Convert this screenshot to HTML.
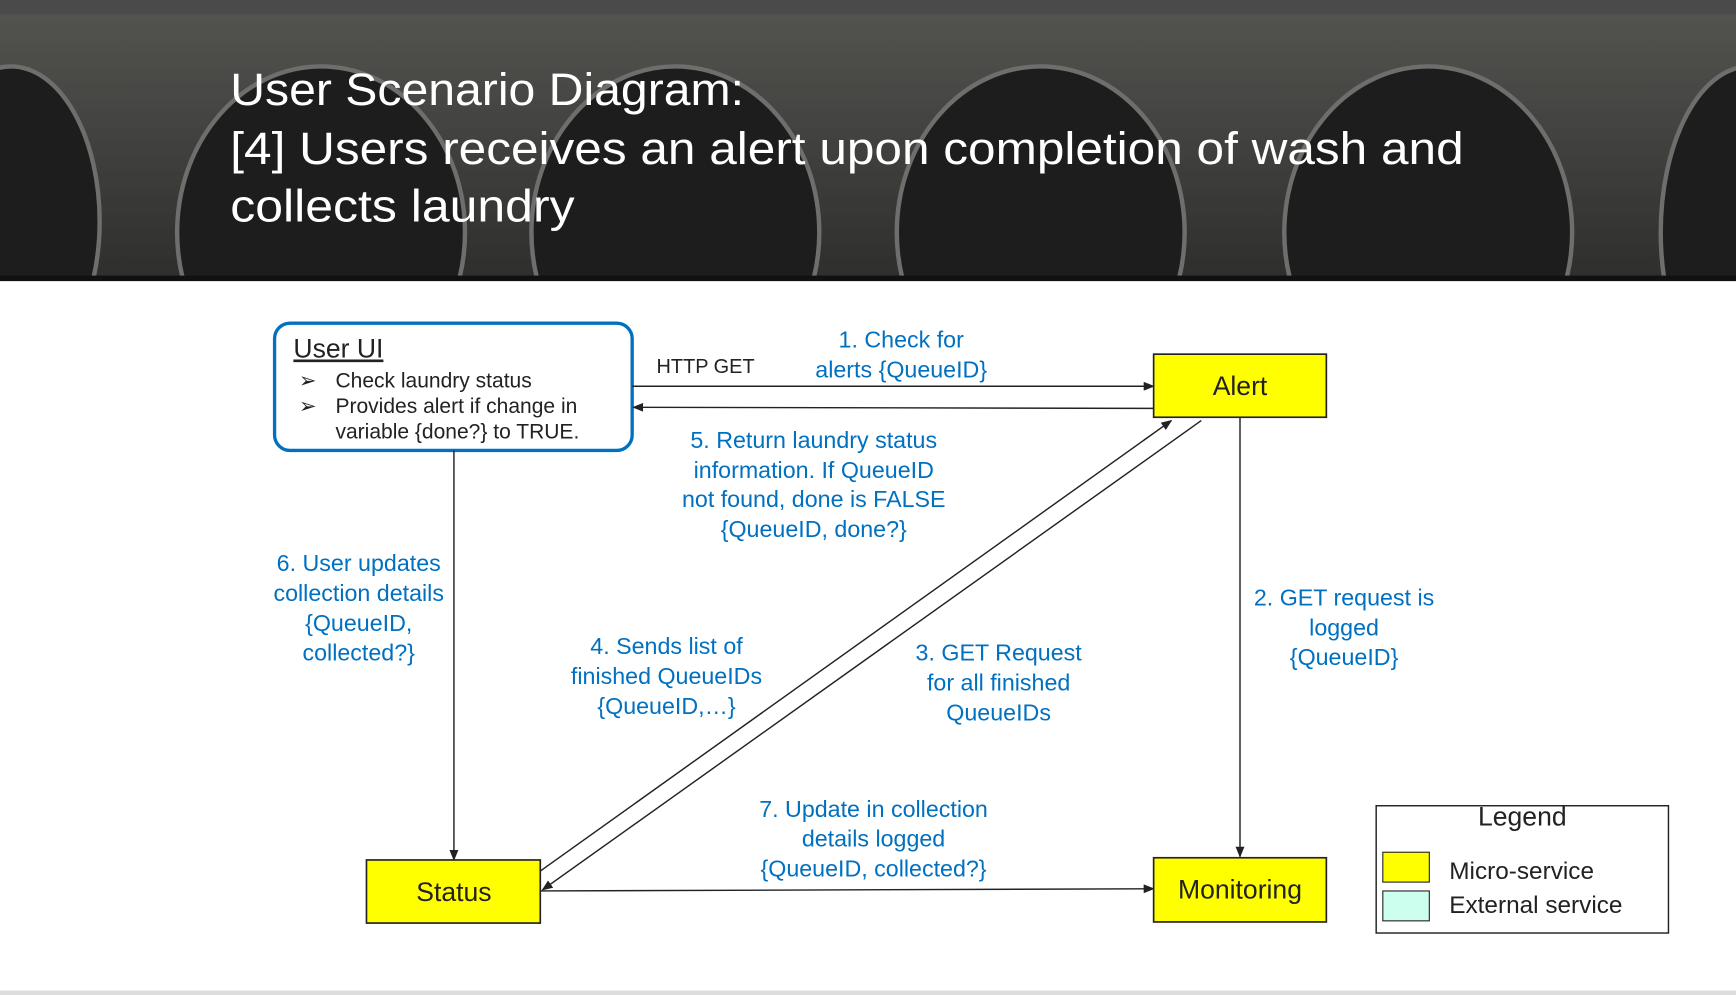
<!DOCTYPE html>
<html><head><meta charset="utf-8"><style>
html,body{margin:0;padding:0;width:1736px;height:995px;overflow:hidden;background:#fff}
svg{display:block}
text{font-family:"Liberation Sans",sans-serif}
.b{fill:#0070c0;font-size:21px;text-anchor:middle}
</style></head><body>
<svg width="1736" height="995" viewBox="0 0 1568 899" preserveAspectRatio="none">
<defs>
<marker id="a" markerWidth="10" markerHeight="8" refX="9" refY="4" orient="auto" markerUnits="userSpaceOnUse"><path d="M0,0 L10,4 L0,8 z" fill="#222"/></marker>
<linearGradient id="hg" x1="0" y1="0" x2="0" y2="1"><stop offset="0" stop-color="#6a6a66"/><stop offset="1" stop-color="#3a3a38"/></linearGradient>
<clipPath id="hc"><rect x="0" y="0" width="1568" height="250"/></clipPath>
</defs>
<rect x="0" y="0" width="1568" height="253" fill="url(#hg)"/>
<g clip-path="url(#hc)">
<g fill="#252525" stroke="#8a8a88" stroke-width="4">
<ellipse cx="10" cy="200" rx="80" ry="140"/>
<ellipse cx="290" cy="210" rx="130" ry="150"/>
<ellipse cx="610" cy="210" rx="130" ry="150"/>
<ellipse cx="940" cy="210" rx="130" ry="150"/>
<ellipse cx="1290" cy="210" rx="130" ry="150"/>
<ellipse cx="1580" cy="210" rx="80" ry="150"/>
</g>
<rect x="0" y="0" width="1568" height="253" fill="#000" opacity="0.2"/>
</g>
<rect x="0" y="0" width="1568" height="13" fill="#4a4a4a"/>
<rect x="0" y="249" width="1568" height="5" fill="#111"/>
<g fill="#fff" font-size="41">
<text x="208" y="95" textLength="464" lengthAdjust="spacingAndGlyphs">User Scenario Diagram:</text>
<text x="208" y="148" textLength="1114" lengthAdjust="spacingAndGlyphs">[4] Users receives an alert upon completion of wash and</text>
<text x="208" y="200" textLength="311" lengthAdjust="spacingAndGlyphs">collects laundry</text>
</g>
<rect x="0" y="895" width="1568" height="4" fill="#ddd"/>

<rect x="248" y="292" width="323" height="115" rx="14" fill="#fff" stroke="#0070c0" stroke-width="3"/>
<text x="265" y="323" font-size="24" fill="#222" text-decoration="underline">User UI</text>
<g font-size="19" fill="#222">
<text x="270" y="350">➢</text><text x="303" y="350">Check laundry status</text>
<text x="270" y="373">➢</text><text x="303" y="373">Provides alert if change in</text>
<text x="303" y="396">variable {done?} to TRUE.</text>
</g>

<rect x="1042" y="320" width="156" height="57" fill="#ffff00" stroke="#222" stroke-width="1.5"/>
<text x="1120" y="357" font-size="24" text-anchor="middle" fill="#222">Alert</text>
<rect x="331" y="777" width="157" height="57" fill="#ffff00" stroke="#222" stroke-width="1.5"/>
<text x="410" y="814" font-size="24" text-anchor="middle" fill="#222">Status</text>
<rect x="1042" y="775" width="156" height="58" fill="#ffff00" stroke="#222" stroke-width="1.5"/>
<text x="1120" y="812" font-size="24" text-anchor="middle" fill="#222">Monitoring</text>

<g stroke="#222" stroke-width="1.3" fill="none">
<line x1="571" y1="349" x2="1042" y2="349" marker-end="url(#a)"/>
<line x1="1042" y1="369" x2="572" y2="368" marker-end="url(#a)"/>
<line x1="410" y1="407" x2="410" y2="777" marker-end="url(#a)"/>
<line x1="1120" y1="377" x2="1120" y2="774" marker-end="url(#a)"/>
<line x1="488" y1="805" x2="1042" y2="803" marker-end="url(#a)"/>
<line x1="488" y1="787" x2="1058" y2="380" marker-end="url(#a)"/>
<line x1="1085" y1="380" x2="490" y2="804" marker-end="url(#a)"/>
</g>

<text x="593" y="337" font-size="18" fill="#222">HTTP GET</text>
<text class="b" x="814" y="314">1. Check for</text>
<text class="b" x="814" y="341">alerts {QueueID}</text>
<text class="b" x="735" y="405">5. Return laundry status</text>
<text class="b" x="735" y="432">information. If QueueID</text>
<text class="b" x="735" y="458">not found, done is FALSE</text>
<text class="b" x="735" y="485">{QueueID, done?}</text>
<text class="b" x="324" y="516">6. User updates</text>
<text class="b" x="324" y="543">collection details</text>
<text class="b" x="324" y="570">{QueueID,</text>
<text class="b" x="324" y="597">collected?}</text>
<text class="b" x="602" y="591">4. Sends list of</text>
<text class="b" x="602" y="618">finished QueueIDs</text>
<text class="b" x="602" y="645">{QueueID,…}</text>
<text class="b" x="902" y="597">3. GET Request</text>
<text class="b" x="902" y="624">for all finished</text>
<text class="b" x="902" y="651">QueueIDs</text>
<text class="b" x="1214" y="547">2. GET request is</text>
<text class="b" x="1214" y="574">logged</text>
<text class="b" x="1214" y="601">{QueueID}</text>
<text class="b" x="789" y="738">7. Update in collection</text>
<text class="b" x="789" y="765">details logged</text>
<text class="b" x="789" y="792">{QueueID, collected?}</text>

<rect x="1243" y="728" width="264" height="115" fill="#fff" stroke="#222" stroke-width="1.3"/>
<text x="1375" y="746" font-size="24" text-anchor="middle" fill="#222">Legend</text>
<rect x="1249" y="770" width="42" height="27" fill="#ffff00" stroke="#222"/>
<rect x="1249" y="805" width="42" height="27" fill="#ccffee" stroke="#222"/>
<text x="1309" y="794" font-size="22" fill="#222">Micro-service</text>
<text x="1309" y="825" font-size="22" fill="#222">External service</text>
</svg>
</body></html>
